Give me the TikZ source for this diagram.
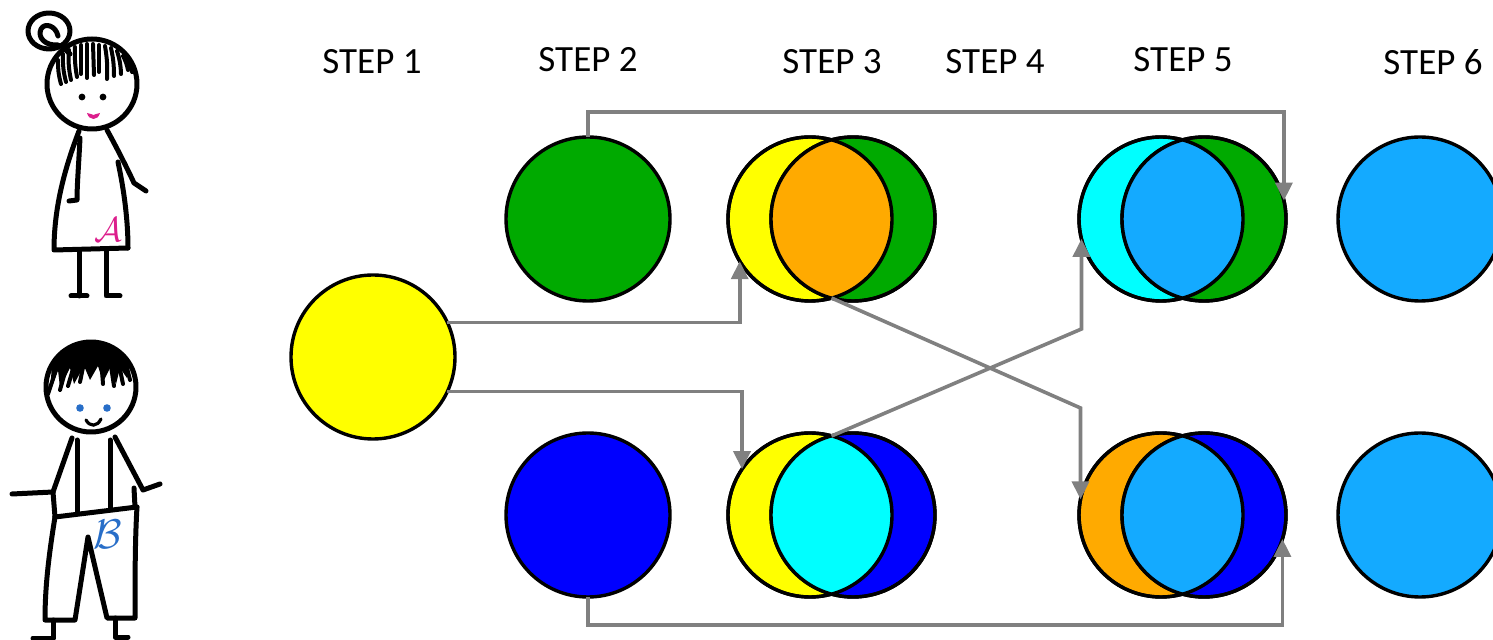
\documentclass[tikz,border=0pt]{standalone}
\usepackage{fontspec}
\setmainfont{Carlito}
\usetikzlibrary{arrows.meta,calc}

\definecolor{vyellow}{RGB}{255,255,0}
\definecolor{vgreen}{RGB}{0,170,0}
\definecolor{vblue}{RGB}{0,0,255}
\definecolor{vcyan}{RGB}{0,255,255}
\definecolor{vorange}{RGB}{255,170,0}
\definecolor{vsky}{RGB}{20,170,255}
\definecolor{flowgray}{RGB}{128,128,128}
\definecolor{lipcol}{RGB}{220,30,140}
\definecolor{eyeblue}{RGB}{40,110,200}

\tikzset{
  disc/.style={circle, draw=black, line width=1.7pt, minimum size=82pt, inner sep=0pt, outer sep=0pt},
  steplabel/.style={font=\fontsize{18.5}{20}\selectfont, inner sep=0pt},
  flow/.style={draw=flowgray, line width=1.8pt, -{Triangle[width=8.5pt,length=9pt]}},
  stick/.style={line width=2.5pt, line cap=round, line join=round},
  strand/.style={line width=2pt, line cap=round},
}

% two overlapping discs: left name, right name, x, y, left colour, right colour, overlap colour
\newcommand{\vennpair}[7]{%
  \node[disc, fill=#5] (#1) at (#3,#4) {};
  \node[disc, fill=#6] (#2) at ($(#1)+(43,0)$) {};
  \begin{scope}
    \clip (#1.center) circle (41pt);
    \fill[#7] (#2.center) circle (41pt);
  \end{scope}
  \draw[line width=1.7pt] (#1.center) circle (41pt) (#2.center) circle (41pt);
}

\begin{document}
\begin{tikzpicture}[x=0.5pt, y=0.5pt]
\useasboundingbox (0,0) rectangle (1493,-640);

% ---------- step headings ----------
\node[steplabel] (t1) at (372,-62) {STEP 1};
\node[steplabel] (t2) at (588,-60) {STEP 2};
\node[steplabel] (t3) at (832,-62) {STEP 3};
\node[steplabel] (t4) at (995,-62) {STEP 4};
\node[steplabel] (t5) at (1183,-60) {STEP 5};
\node[steplabel] (t6) at (1433,-62) {STEP 6};

% ---------- colour discs ----------
\node[disc, fill=vyellow] (s1) at (373,-357) {};
\node[disc, fill=vgreen]  (g2) at (588,-219) {};
\node[disc, fill=vblue]   (b2) at (588,-515) {};

\vennpair{aL}{aR}{810}{-219}{vyellow}{vgreen}{vorange}
\vennpair{bL}{bR}{810}{-515}{vyellow}{vblue}{vcyan}
\vennpair{cL}{cR}{1161}{-219}{vcyan}{vgreen}{vsky}
\vennpair{dL}{dR}{1161}{-515}{vorange}{vblue}{vsky}

\node[disc, fill=vsky] (e6) at (1420,-219) {};
\node[disc, fill=vsky] (f6) at (1420,-515) {};

% overlap corners and bends of the crossing lines
\coordinate (aX) at (831.5,-298);
\coordinate (bX) at (831.5,-436);
\coordinate (bend1) at (1077,-408);
\coordinate (bend2) at (1078,-329);

% ---------- connectors ----------
\draw[flow] (s1.25) -| (aL.211);
\draw[flow] (s1.-25) -| (bL.146);
\draw[flow] (g2.north) -- ++(0,25) -| (cR.13);
\draw[flow] (b2.south) -- ++(0,-28) -| (dR.-17);
\draw[flow] (aX) -- (dL.169 |- bend1) -- (dL.169);
\draw[flow] (bX) -- (cL.194 |- bend2) -- (cL.194);

% ---------- figure A ----------
\begin{scope}[stick]
  % bun
  \draw (49,-31) ellipse (10.5pt and 9pt);
  \draw (58,-45) .. controls (46,-46) and (37,-38) .. (41,-29) .. controls (45,-22) and (56,-26) .. (58,-36);
  \draw (62,-46) -- (70,-54);
  % head
  \draw (92,-84) circle (22.5pt);
  % dress and arms
  \draw (79,-131) .. controls (66,-165) and (54,-205) .. (54,-250) -- (128,-248);
  \draw (80,-138) .. controls (79,-160) and (77,-185) .. (77,-200) -- (69,-201);
  \draw (107,-130) .. controls (118,-150) and (128,-170) .. (134,-183) -- (146,-191);
  \draw (118,-162) .. controls (124,-190) and (128,-220) .. (128,-248);
  % legs
  \draw (79,-250) -- (79,-296);
  \draw (71,-296) -- (87,-296);
  \draw (106,-250) -- (106,-296) -- (120,-296);
\end{scope}
% fringe
\begin{scope}[strand]
  \draw (58,-60) to[bend right=8] (61,-84);
  \draw (63,-54) to[bend right=8] (66,-82);
  \draw (69,-50) to[bend right=8] (71,-80);
  \draw (75,-47) to[bend right=6] (77,-77);
  \draw (81,-45) -- (81,-74);
  \draw (87,-44) -- (87,-78);
  \draw (93,-44) -- (94,-75);
  \draw (99,-45) -- (99,-72);
  \draw (105,-46) to[bend left=6] (107,-79);
  \draw (111,-48) to[bend left=6] (114,-76);
  \draw (117,-51) to[bend left=8] (121,-74);
  \draw (123,-56) to[bend left=8] (128,-70);
  \draw (128,-62) to[bend left=8] (132,-72);
\end{scope}
\fill (82,-97) circle (1.7pt);
\fill (103,-97) circle (1.7pt);
\fill[lipcol] (87,-113) .. controls (89,-121) and (98,-121) .. (100,-113)
  .. controls (97,-115) and (95,-113) .. (93.5,-115)
  .. controls (92,-113) and (90,-115) .. (87,-113) -- cycle;
\node[text=lipcol, inner sep=0pt] (letA) at (108,-230) {\fontsize{18}{18}\selectfont$\mathcal{A}$};

% ---------- figure B ----------
\begin{scope}[stick]
  \draw (91,-387) circle (22.5pt);
  % hair
  \fill (52,-364.5) arc[start angle=150, end angle=30, radius=22.5pt]
    -- (127,-378) -- (120,-368) -- (116,-384) -- (110,-368) -- (103,-382) -- (98,-366)
    -- (90,-380) -- (84,-366) -- (74,-384) -- (70,-368) -- (60,-388) -- (58,-370) -- (50,-392) -- cycle;
  % arms and shirt
  \draw (72,-438) -- (53,-492) -- (12,-494);
  \draw (53,-492) -- (55,-517);
  \draw (77,-440) -- (77,-512);
  \draw (110,-440) -- (110,-509);
  \draw (115,-437) -- (143,-490) -- (160,-484);
  \draw (134,-488) -- (135,-507);
  \draw (55,-517) -- (137,-507);
  % trousers
  \draw (55,-517) .. controls (48,-560) and (45,-590) .. (45,-620) -- (75,-620) -- (88,-537) -- (107,-618) -- (135,-618)
    .. controls (135,-580) and (135,-540) .. (137,-507);
  % feet
  \draw (53,-620) -- (53,-638) -- (33,-638);
  \draw (115,-618) -- (115,-637) -- (128,-637);
\end{scope}
\begin{scope}[strand]
  \draw (62,-352) -- (48,-394);
  \draw (72,-347) -- (60,-390);
  \draw (80,-345) -- (68,-386);
  \draw (88,-343) -- (80,-382);
  \draw (100,-344) -- (103,-384);
  \draw (108,-346) -- (114,-386);
  \draw (116,-350) -- (123,-384);
  \draw (124,-356) -- (130,-380);
\end{scope}
\fill[eyeblue] (80,-408) circle (1.9pt);
\fill[eyeblue] (107,-408) circle (1.9pt);
\draw[line width=1.6pt, line cap=round] (86,-420) .. controls (90,-427) and (97,-427) .. (101,-419);
\node[text=eyeblue, inner sep=0pt] (letB) at (108,-534) {\fontsize{20}{20}\selectfont$\mathcal{B}$};

\end{tikzpicture}
\end{document}
